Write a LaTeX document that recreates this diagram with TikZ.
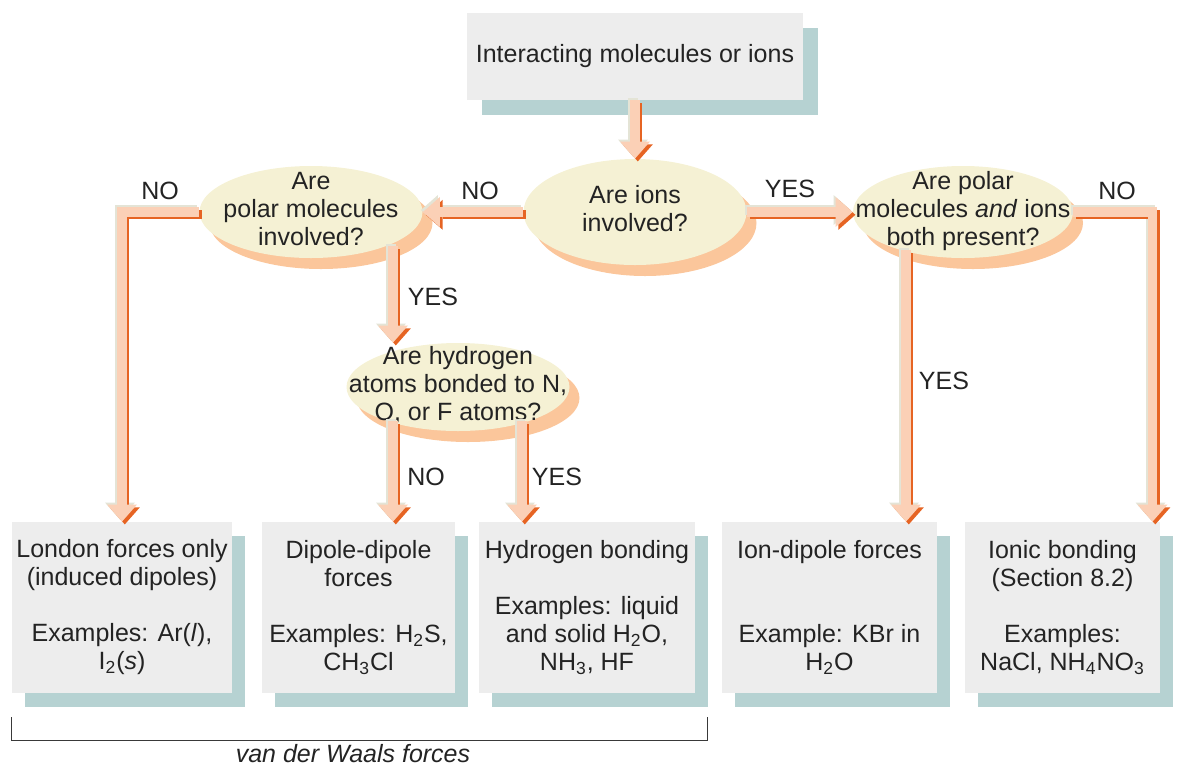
\documentclass[tikz,border=0pt]{standalone}
\usepackage{fontspec}
\setmainfont{Liberation Sans}
\usepackage{xcolor}
\usepackage{tikz}
\usetikzlibrary{shapes.geometric, arrows.meta, positioning, shadows, backgrounds}
\definecolor{boxfill}{RGB}{237,237,237}
\definecolor{boxshadow}{RGB}{182,210,210}
\definecolor{ellfill}{RGB}{245,241,212}
\definecolor{ellshadow}{RGB}{251,198,155}
\definecolor{flowpale}{RGB}{251,208,182}
\definecolor{flowdark}{RGB}{230,100,35}
\definecolor{flowgray}{RGB}{228,228,214}
\definecolor{inktext}{RGB}{35,35,35}
\newcommand{\qtext}[1]{\smash{\makebox[0pt]{\raisebox{-3pt}{\begin{tabular}{@{}c@{}}#1\end{tabular}}}}}
\tikzstyle{startbox} = [rectangle, fill=boxfill, minimum width=168pt, minimum height=43.5pt, inner sep=0pt, align=center, drop shadow={shadow xshift=7.5pt, shadow yshift=-7.5pt, fill=boxshadow, opacity=1}]
\tikzstyle{outcome} = [rectangle, fill=boxfill, minimum height=85.5pt, inner sep=0pt, align=center, drop shadow={shadow xshift=6.5pt, shadow yshift=-7pt, fill=boxshadow, opacity=1}]
\tikzstyle{question} = [ellipse, fill=ellfill, minimum width=111.5pt, minimum height=46pt, inner sep=0pt, drop shadow={shadow xshift=5pt, shadow yshift=-5.5pt, fill=ellshadow, opacity=1}]
\tikzstyle{flow} = [line width=4.6pt, -{Triangle[width=15pt,length=8.5pt,line width=0pt]}]
\tikzstyle{answer} = [inner sep=0pt]
\tikzstyle{bracket} = [draw=inktext!90, line width=0.8pt]
% one connector: light edge, dark edge, pale body
\newcommand{\flowdraw}[1]{%
    \draw [flow, draw=flowgray, transform canvas={shift={(-1pt,1pt)}}] #1;
    \draw [flow, draw=flowdark, transform canvas={shift={(1.4pt,-1.4pt)}}] #1;
    \draw [flow, draw=flowpale] #1;}

\begin{document}
\begin{tikzpicture}[x=0.5pt, y=-0.5pt, every node/.style={font=\fontsize{12.5}{14}\selectfont, text=inktext}]
    \useasboundingbox (0,0) rectangle (1180,768);

    % questions
    \node (top) [startbox] at (635,56.5) {Interacting molecules or ions};
    \node (ions) [question, minimum height=53pt] at (635,212) {\qtext{Are ions\\involved?}};
    \node (polar) [question] at (311,212) {\qtext{Are\\polar molecules\\involved?}};
    \node (both) [question, minimum width=110pt] at (963,212) {\qtext{Are polar\\molecules \textit{and} ions\\both present?}};
    \node (hq) [question, minimum height=44pt] at (458,387) {\qtext{Are hydrogen\\atoms bonded to N,\\O, or F atoms?}};

    % outcomes
    \node (london) [outcome, minimum width=110pt] at (122,607.5) {London forces only\\(induced dipoles)\\~\\Examples: Ar(\textit{l}),\\I\textsubscript{2}(\textit{s})};
    \node (dd) [outcome, minimum width=96.5pt] at (358.5,607.5) {Dipole-dipole\\forces\\~\\Examples: H\textsubscript{2}S,\\CH\textsubscript{3}Cl};
    \node (hb) [outcome, minimum width=108pt] at (587,607.5) {Hydrogen bonding\\~\\Examples: liquid\\and solid H\textsubscript{2}O,\\NH\textsubscript{3}, HF};
    \node (iondip) [outcome, minimum width=107.5pt] at (829.5,607.5) {Ion-dipole forces\\~\\~\\Example: KBr in\\H\textsubscript{2}O};
    \node (ionic) [outcome, minimum width=97.5pt] at (1062.5,607.5) {Ionic bonding\\(Section 8.2)\\~\\Examples:\\NaCl, NH\textsubscript{4}NO\textsubscript{3}};

    % connectors
    \flowdraw{(top) -- (ions)}
    \flowdraw{(ions) -- (polar)}
    \flowdraw{(ions) -- (both)}
    \flowdraw{(polar.west) -| (london.north)}
    \flowdraw{([xshift=41pt,yshift=6pt]polar.south) -- ([xshift=-32.5pt]hq.north)}
    \flowdraw{([xshift=-32.5pt,yshift=5pt]hq.south) -- ([xshift=17.25pt]dd.north)}
    \flowdraw{([xshift=32pt,yshift=5pt]hq.south) -- ([xshift=-32.5pt]hb.north)}
    \flowdraw{([xshift=-28.5pt,yshift=4pt]both.south) -- ([xshift=38.25pt]iondip.north)}
    \flowdraw{(both.east) -| ([xshift=45pt]ionic.north)}

    % answers
    \node (nopolar) [answer] at (160,191) {NO};
    \node (noions) [answer] at (480,191) {NO};
    \node (yesions) [answer] at (790,189) {YES};
    \node (noboth) [answer] at (1117,191) {NO};
    \node (yespolar) [answer] at (433,297) {YES};
    \node (nohyd) [answer] at (426,477) {NO};
    \node (yeshyd) [answer] at (557,477) {YES};
    \node (yesboth) [answer] at (944,381) {YES};

    % van der Waals bracket
    \draw [bracket] ([yshift=-12pt]london.south west) -- ([yshift=-23.5pt]london.south west) -| ([xshift=6pt,yshift=-12pt]hb.south east);
    \node (vdw) [answer, font=\fontsize{12.5}{14}\selectfont\itshape] at (353,754) {van der Waals forces};
\end{tikzpicture}
\end{document}
